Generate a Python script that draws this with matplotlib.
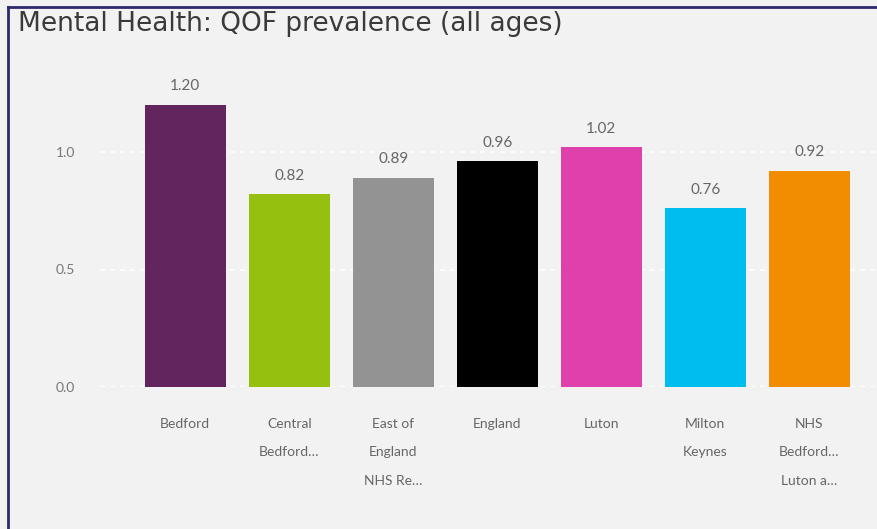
import matplotlib
matplotlib.use('Agg')
import matplotlib.pyplot as plt
from matplotlib.lines import Line2D

# values
areas = ['Bedford', 'Central\nBedford…', 'East of\nEngland\nNHS Re…', 'England',
         'Luton', 'Milton\nKeynes', 'NHS\nBedford…\nLuton a…']
prevalence = [1.20, 0.82, 0.89, 0.96, 1.02, 0.76, 0.92]
bar_colours = ['#62255e', '#95c00f', '#939393', '#000000', '#e040ab', '#00bdef', '#f28c00']
yticks = [0.0, 0.5, 1.0]

plt.rcParams['font.family'] = ['Lato', 'DejaVu Sans']

bg = '#f2f2f2'
fig = plt.figure(figsize=(8.77, 5.29), dpi=100, facecolor=bg)
ax = fig.add_axes([100 / 877, (529 - 387) / 529, 777 / 877, 305.5 / 529])
ax.set_facecolor(bg)

x = range(len(areas))
ax.bar(x, prevalence, width=0.78, color=bar_colours, zorder=3)

# value labels above each bar
for i, v in enumerate(prevalence):
    ax.text(i, v + 0.05, f'{v:.2f}', ha='center', va='bottom', fontsize=11, color='#666666')

ax.set_xlim(-0.82, 6.65)
ax.set_ylim(0, 1.3)
ax.set_yticks(yticks)
ax.set_yticklabels([f'{t:.1f}' for t in yticks])
ax.set_xticks(list(x))
ax.set_xticklabels(areas, linespacing=2.65)

ax.tick_params(axis='y', length=0, pad=18, labelsize=10, labelcolor='#777777')
ax.tick_params(axis='x', length=0, pad=22, labelsize=10, labelcolor='#666666')
for lbl in ax.get_xticklabels():
    lbl.set_verticalalignment('top')

ax.grid(axis='y', color='white', linestyle=(0, (3, 3)), linewidth=1.2, zorder=0)
for s in ax.spines.values():
    s.set_visible(False)

fig.text(18 / 877, 1 - 24 / 529, 'Mental Health: QOF prevalence (all ages)',
         fontsize=19, color='#3a3a3a', ha='left', va='center', family='DejaVu Sans')

# navy frame on the left and top edges
fig.add_artist(Line2D([8 / 877, 8 / 877], [0, 1 - 7 / 529], transform=fig.transFigure,
                      color='#2e2a6e', linewidth=2))
fig.add_artist(Line2D([8 / 877, 1], [1 - 7 / 529, 1 - 7 / 529], transform=fig.transFigure,
                      color='#2e2a6e', linewidth=2))

fig.savefig('out.png', dpi=100, facecolor=bg)
